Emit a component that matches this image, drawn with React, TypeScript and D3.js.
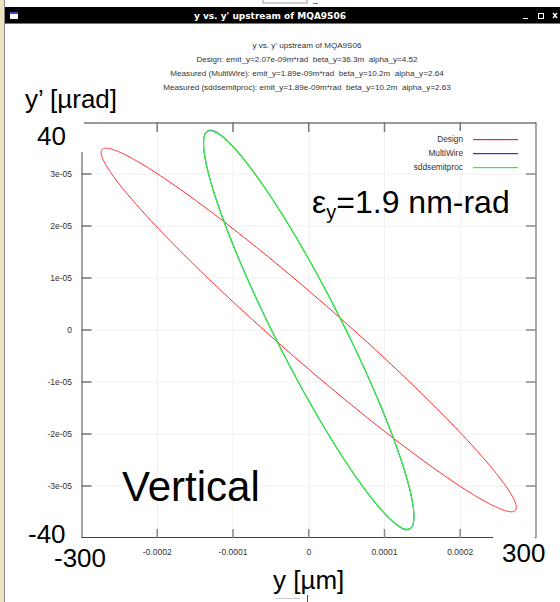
import * as d3 from "d3"

// twiss parameters printed on the chart
const seriesNames = ["Design", "MultiWire", "sddsemitproc"]
const seriesColors = ["#ff2020", "#2030ff", "#33f033"]
const emitY = [2.07e-9, 1.89e-9, 1.89e-9]
const betaY = [36.3, 10.2, 10.2]
const alphaY = [4.52, 2.64, 2.63]

const xTicks = [-0.0002, -0.0001, 0, 0.0001, 0.0002]
const xTickLabels = ["-0.0002", "-0.0001", "0", "0.0001", "0.0002"]
const yTicks = [3e-5, 2e-5, 1e-5, 0, -1e-5, -2e-5, -3e-5]
const yTickLabels = ["3e-05", "2e-05", "1e-05", "0", "-1e-05", "-2e-05", "-3e-05"]

const subtitleLines = [
  "y vs. y' upstream of MQA9S06",
  "Design: emit_y=2.07e-09m*rad  beta_y=36.3m  alpha_y=4.52",
  "Measured (MultiWire): emit_y=1.89e-09m*rad  beta_y=10.2m  alpha_y=2.64",
  "Measured (sddsemitproc): emit_y=1.89e-09m*rad  beta_y=10.2m  alpha_y=2.63",
]

const font = "'Liberation Sans', Arial, sans-serif"

export default function App() {
  const xScale = d3.scaleLinear().domain([-3e-4, 3e-4]).range([81.5, 536])
  const yScale = d3.scaleLinear().domain([-4e-5, 4e-5]).range([538, 122])

  const [x0, x1] = xScale.range()
  const [yBot, yTop] = yScale.range()

  const phases = d3.range(0, 2 * Math.PI + 0.001, Math.PI / 360)

  const ellipses = seriesNames.map((name, i) => {
    const pts = phases.map((p) => {
      const yy = Math.sqrt(emitY[i] * betaY[i]) * Math.cos(p)
      const yp = -Math.sqrt(emitY[i] / betaY[i]) * (alphaY[i] * Math.cos(p) + Math.sin(p))
      return [xScale(yy), yScale(yp)] as [number, number]
    })
    return d3.line()(pts) ?? ""
  })

  return (
    <div style={{ position: "fixed", left: 0, top: 0 }}>
      <svg width={560} height={602} style={{ display: "block", background: "#fff" }}>
        {/* window chrome */}
        <rect x={0} y={0} width={4} height={602} fill="#ede3bf" />
        <line x1={4.5} x2={4.5} y1={0} y2={602} stroke="#8a8a8a" />
        <rect x={263} y={-8} width={44} height={11} fill="none" stroke="#9a9a9a" />
        <line x1={313} x2={318} y1={3.5} y2={3.5} stroke="#777" />
        <rect x={5} y={7} width={555} height={16} fill="#000" />
        <line x1={5} x2={560} y1={23.5} y2={23.5} stroke="#5a7aa8" />
        <rect x={10} y={12} width={8} height={7} fill="#fff" />
        <rect x={10} y={12} width={8} height={2} fill="#3050c0" />
        <text x={270} y={19} textAnchor="middle" fill="#fff" fontFamily="'DejaVu Sans', sans-serif" fontWeight="bold" fontSize={9}>
          y vs. y' upstream of MQA9S06
        </text>
        <line x1={523} x2={528} y1={18.5} y2={18.5} stroke="#fff" />
        <rect x={538.5} y={13.5} width={5} height={5} fill="none" stroke="#fff" />
        <path d="M553,13 L557,18 M557,13 L553,18" stroke="#fff" strokeWidth={1.4} />

        {/* subtitle */}
        {subtitleLines.map((t, i) => (
          <text key={i} x={307} y={48 + i * 14} textAnchor="middle" fontFamily={font} fontSize={8.1} fill="#333" xmlSpace="preserve">
            {t}
          </text>
        ))}

        {/* grid */}
        {xTicks.map((d, i) => (
          <line key={"gx" + i} x1={xScale(d)} x2={xScale(d)} y1={yTop} y2={yBot} stroke="#f0f0f0" />
        ))}
        {yTicks.map((d, i) => (
          <line key={"gy" + i} x1={x0} x2={x1} y1={yScale(d)} y2={yScale(d)} stroke="#f0f0f0" />
        ))}

        {/* frame */}
        <line x1={x0} x2={x1} y1={yTop + 1} y2={yTop + 1} stroke="#999" strokeWidth={2} />
        <line x1={x1} x2={x1} y1={yTop} y2={yBot} stroke="#555" />
        <line x1={x0} x2={x1} y1={yBot - 0.5} y2={yBot - 0.5} stroke="#444" />
        <line x1={x0 + 0.5} x2={x0 + 0.5} y1={yTop} y2={yBot} stroke="#444" />

        {/* ticks */}
        {xTicks.map((d, i) => (
          <g key={"tx" + i}>
            <line x1={xScale(d)} x2={xScale(d)} y1={yTop} y2={yTop + 10} stroke="#777" strokeWidth={1.5} />
            <line x1={xScale(d)} x2={xScale(d)} y1={yBot} y2={yBot - 9} stroke="#888" strokeWidth={1.5} />
            <text x={xScale(d)} y={555} textAnchor="middle" fontFamily={font} fontSize={8.5} fill="#333">
              {xTickLabels[i]}
            </text>
          </g>
        ))}
        {yTicks.map((d, i) => (
          <g key={"ty" + i}>
            <line x1={x0} x2={x0 + 10} y1={yScale(d)} y2={yScale(d)} stroke="#555" strokeWidth={1.2} />
            <line x1={x1} x2={x1 - 10} y1={yScale(d)} y2={yScale(d)} stroke="#888" strokeWidth={1.5} />
            <text x={72} y={yScale(d) + 3} textAnchor="end" fontFamily={font} fontSize={8.5} fill="#333">
              {yTickLabels[i]}
            </text>
          </g>
        ))}

        {/* legend */}
        <rect x={400} y={131} width={134} height={42} fill="#fff" />
        {seriesNames.map((n, i) => (
          <g key={"lg" + i}>
            <text x={463} y={142 + i * 14} textAnchor="end" fontFamily={font} fontSize={8.3} fill="#333">
              {n}
            </text>
            <rect x={473} y={139 + i * 14} width={45} height={1.2} fill={seriesColors[i]} />
          </g>
        ))}

        {/* ellipses */}
        {ellipses.map((d, i) => (
          <path key={"e" + i} d={d} fill="none" stroke={seriesColors[i]} strokeWidth={i === 2 ? 1.3 : 1} />
        ))}

        {/* overlay annotations */}
        <rect x={30} y={117} width={54} height={35} fill="#fff" />
        <rect x={493} y={532} width={42} height={36} fill="#fff" />
        <text x={25} y={108} fontFamily={font} fontSize={26} fill="#000">
          y’ [µrad]
        </text>
        <text x={37} y={145} fontFamily={font} fontSize={26} fill="#000">
          40
        </text>
        <text x={28} y={543} fontFamily={font} fontSize={26} fill="#000">
          -40
        </text>
        <text x={54} y={567} fontFamily={font} fontSize={26} fill="#000">
          -300
        </text>
        <text x={502} y={562} fontFamily={font} fontSize={26} fill="#000">
          300
        </text>
        <text x={273} y={589} fontFamily={font} fontSize={26} fill="#000">
          y [µm]
        </text>
        <text x={122} y={501} fontFamily={font} fontSize={42} fill="#000">
          Vertical
        </text>
        <text x={312} y={213} fontFamily={font} fontSize={32} fill="#000">
          ε<tspan fontSize={20} dy={6}>y</tspan>
          <tspan dy={-6}>=1.9 nm-rad</tspan>
        </text>
        <line x1={276} x2={300} y1={598.5} y2={598.5} stroke="#ccc" />
        <line x1={307.5} x2={307.5} y1={595} y2={602} stroke="#555" />
      </svg>
    </div>
  )
}
